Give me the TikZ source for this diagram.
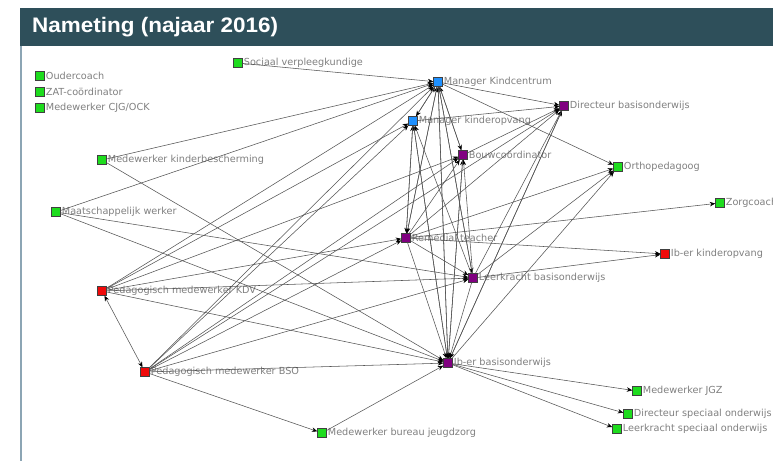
\documentclass[tikz,border=0pt]{standalone}
\usepackage{fontspec}
\setmainfont{DejaVu Sans}
\newfontfamily\titlefont{Liberation Sans}
\usetikzlibrary{arrows.meta}
\definecolor{hdr}{RGB}{46,79,90}
\definecolor{lblgray}{RGB}{128,128,128}
\definecolor{edgegray}{RGB}{85,85,85}
\definecolor{ngreen}{RGB}{30,220,30}
\definecolor{nblue}{RGB}{30,144,255}
\definecolor{npurple}{RGB}{128,0,128}
\definecolor{nred}{RGB}{240,10,10}
\definecolor{frame}{RGB}{140,165,180}
\newcommand\nd[5]{\node[sqr, fill=#4] (#1) at (#2,#3) {};
  \node[lbl] (#1-l) at (#1.east) {#5};}
\begin{document}
\begin{tikzpicture}[x=1pt,y=-1pt,
  sqr/.style={draw=black!75, line width=0.4pt, minimum size=9pt, inner sep=0pt, shape=rectangle},
  lbl/.style={text=lblgray, font=\fontsize{9.7}{11}\selectfont, inner sep=1pt, anchor=west},
  tip/.style={Stealth[length=5.5pt,width=4.5pt,color=black]},
  lnk/.style={draw=edgegray, line width=0.55pt, -{Stealth[length=5.5pt,width=4.5pt,color=black]}},
  dbl/.style={draw=edgegray, line width=0.55pt, {Stealth[length=5.5pt,width=4.5pt,color=black]}-{Stealth[length=5.5pt,width=4.5pt,color=black]}}]
\useasboundingbox (0,0) rectangle (773,461);
\fill[white] (0,0) rectangle (773,461);
\fill[hdr] (20,8) rectangle (773,46);
\node[anchor=west, text=white, inner sep=0pt] (title) at (32,27)
  {\titlefont\bfseries\fontsize{21}{24}\selectfont\scalebox{1.07}[1]{Nameting (najaar 2016)}};
\draw[frame, line width=1.2pt] (21,46) -- (21,461);
% nodes
\nd{OC}{40}{76}{ngreen}{Oudercoach}
\nd{ZAT}{40}{92}{ngreen}{ZAT-coördinator}
\nd{CJG}{40}{108}{ngreen}{Medewerker CJG/OCK}
\nd{SV}{238}{63}{ngreen}{Sociaal verpleegkundige}
\nd{MK}{438}{82}{nblue}{Manager Kindcentrum}
\nd{DB}{564}{106}{npurple}{Directeur basisonderwijs}
\nd{MKO}{413}{121}{nblue}{Manager kinderopvang}
\nd{BC}{463}{155}{npurple}{Bouwcoördinator}
\nd{OP}{618}{167}{ngreen}{Orthopedagoog}
\nd{MKB}{102}{160}{ngreen}{Medewerker kinderbescherming}
\nd{MW}{56}{212}{ngreen}{Maatschappelijk werker}
\nd{ZC}{720}{203}{ngreen}{Zorgcoach}
\nd{RT}{406}{238}{npurple}{Remedial teacher}
\nd{IKO}{665}{254}{nred}{Ib-er kinderopvang}
\nd{LB}{473}{278}{npurple}{Leerkracht basisonderwijs}
\nd{KDV}{102}{291}{nred}{Pedagogisch medewerker KDV}
\nd{BSO}{145}{372}{nred}{Pedagogisch medewerker BSO}
\nd{IB}{448}{363}{npurple}{Ib-er basisonderwijs}
\nd{JGZ}{637}{391}{ngreen}{Medewerker JGZ}
\nd{DSO}{628}{414}{ngreen}{Directeur speciaal onderwijs}
\nd{LSO}{617}{429}{ngreen}{Leerkracht speciaal onderwijs}
\nd{MBJ}{322}{433}{ngreen}{Medewerker bureau jeugdzorg}
% connectors
\foreach \a/\b in {SV/MK, MKB/MK, MW/MK, KDV/MK, BSO/MK, MKO/MK, BC/MK, RT/MK, LB/MK, IB/MK,
  MK/DB, MK/OP, MK/MKO, MK/BC, MK/RT, MK/LB, MK/IB,
  KDV/MKO, BSO/MKO, RT/MKO, LB/MKO, IB/MKO, MKO/DB, MKO/RT,
  KDV/BC, BSO/BC, RT/BC, LB/BC, IB/BC, BC/DB,
  RT/DB, LB/DB, IB/DB, BSO/DB,
  RT/OP, LB/OP, IB/OP, RT/ZC, RT/IKO, LB/IKO, RT/LB,
  KDV/LB, MW/LB, BSO/LB, KDV/RT, BSO/RT,
  LB/IB, RT/IB, BC/IB, MKO/IB, DB/IB,
  MKB/IB, MW/IB, KDV/IB, BSO/IB, MBJ/IB,
  BSO/MBJ, IB/JGZ, IB/DSO, IB/LSO}
  \draw[lnk] (\a) -- (\b);
\draw[dbl] (KDV) -- (BSO);
\end{tikzpicture}
\end{document}
